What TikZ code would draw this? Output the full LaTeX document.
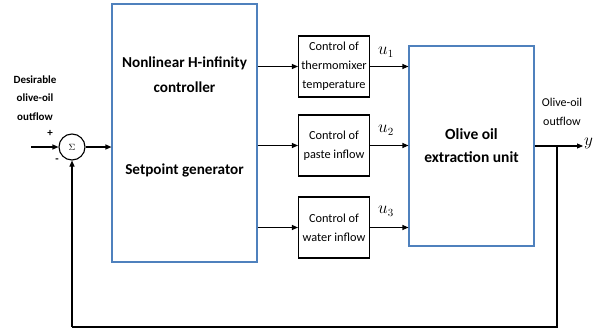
\documentclass[tikz,border=0pt]{standalone}
\usepackage{fontspec}
\setmainfont{Carlito}
\usetikzlibrary{arrows.meta}
\definecolor{boxblue}{RGB}{79,129,189}
\begin{document}
\begin{tikzpicture}[x=1pt,y=-1pt,
  bigbox/.style={draw=boxblue,line width=1.1pt,inner sep=0pt},
  smallbox/.style={draw=black,line width=1.1pt,minimum width=71pt,minimum height=61pt,inner sep=0pt,align=center,font=\fontsize{12.3}{19}\selectfont},
  conn/.style={line width=1.1pt,-{Triangle[length=6pt,width=5pt]}},
  line/.style={line width=1.1pt},
  txt/.style={inner sep=0pt,align=center}]
\useasboundingbox (0,0) rectangle (601,334);
% blocks
\node[bigbox,minimum width=145pt,minimum height=258pt] (ctrl) at (184.5,133) {};
\node[txt,font=\fontsize{15.2}{25}\selectfont\bfseries] (ctrltxt) at (184.5,75) {Nonlinear H-infinity\\controller};
\node[txt,font=\fontsize{15.2}{25}\selectfont\bfseries] (sptxt) at (184.5,170) {Setpoint generator};
\node[smallbox] (b1) at (334,66.5) {Control of\\thermomixer\\temperature};
\node[smallbox] (b2) at (334,145.5) {Control of\\paste inflow};
\node[smallbox] (b3) at (334,227.5) {Control of\\water inflow};
\node[bigbox,minimum width=125pt,minimum height=200pt,align=center,font=\fontsize{15.5}{23}\selectfont\bfseries] (plant) at (471.5,146) {Olive oil\\extraction unit};
\node[draw,circle,line width=1.1pt,minimum size=26pt,inner sep=0pt,font=\fontsize{9}{9}\selectfont] (sum) at (72,147) {$\Sigma$};
% labels
\node[txt,font=\fontsize{11}{18.5}\selectfont\bfseries] (des) at (35,98) {Desirable\\olive-oil\\outflow};
\node[txt,font=\fontsize{11}{11}\selectfont\bfseries] (plus) at (50,133) {+};
\node[txt,font=\fontsize{11}{11}\selectfont\bfseries] (minus) at (57,161) {-};
\node[txt,font=\fontsize{12}{19}\selectfont] (outl) at (562,111.5) {Olive-oil\\outflow};
\node[txt,font=\fontsize{16}{16}\selectfont] (u1) at (386,52) {$u_1$};
\node[txt,font=\fontsize{16}{16}\selectfont] (u2) at (386,130) {$u_2$};
\node[txt,font=\fontsize{16}{16}\selectfont] (u3) at (386,211) {$u_3$};
% coordinates
\coordinate (in) at (31,147);
\coordinate (yend) at (583,146);
\coordinate (br) at (557,146);
\coordinate (brb) at (557,327);
\coordinate (fbl) at (72,327);
\node[txt,anchor=west,font=\fontsize{16}{16}\selectfont] (ylab) at (584,143) {$y$};
% connectors
\draw[conn] (in) -- (sum.west);
\draw[conn] (sum.east) -- (ctrl.west |- sum.east);
\draw[conn] (ctrl.east |- b1.west) -- (b1.west);
\draw[conn] (ctrl.east |- b2.west) -- (b2.west);
\draw[conn] (ctrl.east |- b3.west) -- (b3.west);
\draw[conn] (b1.east) -- (plant.west |- b1.east);
\draw[conn] (b2.east) -- (plant.west |- b2.east);
\draw[conn] (b3.east) -- (plant.west |- b3.east);
\draw[conn] (plant.east) -- (yend);
\draw[line] (br) -- (brb) -- (fbl);
\draw[conn] (fbl) -- (sum.south);
\end{tikzpicture}
\end{document}
